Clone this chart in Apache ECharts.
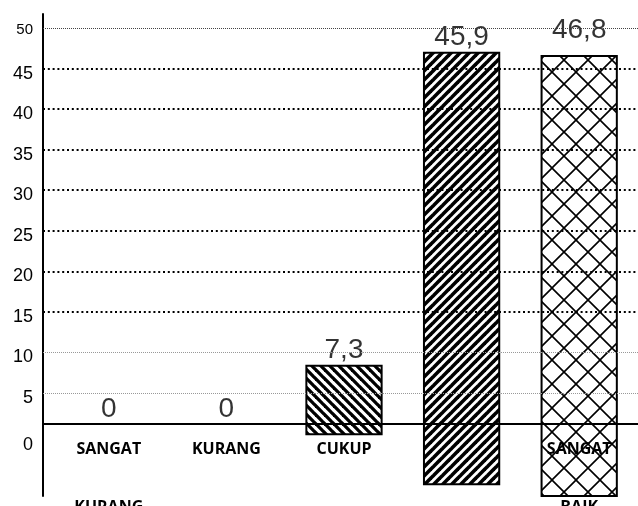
<!DOCTYPE html>
<html>
<head>
<meta charset="utf-8">
<script src="https://cdn.jsdelivr.net/npm/echarts@6/dist/echarts.min.js"></script>
<style>
  html, body { margin: 0; padding: 0; background: #fff; }
  #chart { width: 638px; height: 506px; }
</style>
</head>
<body>
<div id="chart"></div>
<script>
// Categories and percentages
const categories = ['SANGAT KURANG', 'KURANG', 'CUKUP', 'BAIK', 'SANGAT BAIK'];
const percentages = [0, 0, 7.3, 45.9, 46.8];
// Level each bar's fill starts from (the boxes hang below the baseline)
const barFloor = [0, 0, -1.1, -6.4, -7.66];
// Value-axis tick labels
const yTicks = [0, 5, 10, 15, 20, 25, 30, 35, 40, 45, 50];

// ---- fill patterns ----
function stripes(dir, period, width) {
  const c = document.createElement('canvas');
  c.width = period; c.height = period;
  const g = c.getContext('2d');
  g.fillStyle = '#fff';
  g.fillRect(0, 0, period, period);
  g.strokeStyle = '#000';
  g.lineWidth = width;
  for (let k = -2; k <= 2; k++) {
    g.beginPath();
    if (dir === 'down') {
      g.moveTo(k * period - period, -period);
      g.lineTo(k * period + 2 * period, 2 * period);
    } else {
      g.moveTo(k * period - period, 2 * period);
      g.lineTo(k * period + 2 * period, -period);
    }
    g.stroke();
  }
  return { image: c, repeat: 'repeat' };
}
function lattice(period, width) {
  const c = document.createElement('canvas');
  c.width = period; c.height = period;
  const g = c.getContext('2d');
  g.strokeStyle = '#000';
  g.lineWidth = width;
  for (let k = -1; k <= 1; k++) {
    g.beginPath();
    g.moveTo(k * period - period, -period);
    g.lineTo(k * period + 2 * period, 2 * period);
    g.moveTo(k * period - period, 2 * period);
    g.lineTo(k * period + 2 * period, -period);
    g.stroke();
  }
  return { image: c, repeat: 'repeat' };
}
const fills = [null, null, stripes('down', 9, 3.3), stripes('up', 9, 3.6), lattice(24, 1.6)];

function gridStyle(v) {
  if (v === 50) return { color: '#444', width: 1, type: [1, 1] };
  if (v <= 10) return { color: '#999', width: 1, type: [1, 1] };
  return { color: '#000', width: 2, type: [2, 2.8] };
}

const chart = echarts.init(document.getElementById('chart'));
chart.setOption({
  animation: false,
  backgroundColor: '#fff',
  grid: [
    { left: 43, right: 0, top: 28, bottom: 72.4, outerBoundsMode: 'none', containLabel: false },
    { left: 50, right: 0, top: 14, bottom: 10, outerBoundsMode: 'none', containLabel: false }
  ],
  xAxis: [
    {
      gridIndex: 0, type: 'category', data: categories, z: 4,
      offset: -9.6,
      axisLine: { onZero: false, lineStyle: { color: '#000', width: 2 } },
      axisTick: { show: false }, axisLabel: { show: false }, splitLine: { show: false }
    },
    {
      gridIndex: 1, type: 'category', data: categories, z: 1,
      offset: -72,
      axisLine: { show: false, onZero: false },
      axisTick: { show: false },
      axisLabel: {
        interval: 0, margin: -4,
        formatter: s => s.replace(' ', '\n'),
        fontFamily: 'Open Sans', fontWeight: 'bold', fontSize: 16, lineHeight: 58, color: '#000'
      }
    }
  ],
  yAxis: [
    {
      gridIndex: 0, type: 'value', min: yTicks[0], max: yTicks[yTicks.length - 1], interval: 5,
      axisLine: { show: false }, axisTick: { show: false }, splitLine: { show: false },
      axisLabel: {
        margin: 10, color: '#000',
        formatter: v => v === 0 ? '{zero|' + v + '}' : v === 50 ? '{top|' + v + '}' : '{n|' + v + '}',
        rich: {
          n: { fontFamily: 'Liberation Sans', fontSize: 18, color: '#000', padding: [10, 0, 0, 0] },
          zero: { fontFamily: 'Liberation Sans', fontSize: 18, color: '#000', padding: [22, 0, 0, 0] },
          top: { fontFamily: 'Liberation Sans', fontSize: 15, color: '#000', padding: [4, 0, 0, 0] }
        }
      }
    },
    {
      gridIndex: 1, type: 'value', min: -7.66, max: 43.62, offset: 7, z: 4,
      axisLine: { show: true, lineStyle: { color: '#000', width: 2 } },
      axisTick: { show: false }, axisLabel: { show: false }, splitLine: { show: false }
    },
    {
      gridIndex: 1, type: 'value', min: -7.69, max: 51.74, show: false
    }
  ],
  series: [
    {
      // dotted reference rules
      type: 'line', xAxisIndex: 0, yAxisIndex: 0, z: 1, silent: true,
      data: categories.map(() => null),
      markLine: {
        symbol: 'none', silent: true, animation: false,
        label: { show: false },
        data: yTicks.filter(v => v > 0).map(v => ({ yAxis: v, lineStyle: gridStyle(v) }))
      }
    },
    {
      // value labels
      type: 'scatter', xAxisIndex: 1, yAxisIndex: 2, z: 2, silent: true,
      symbolSize: 1, itemStyle: { color: 'rgba(0,0,0,0)' },
      data: percentages,
      label: {
        show: true, position: 'inside', offset: [0, -24],
        formatter: p => String(p.value).replace('.', ','),
        fontFamily: 'Liberation Sans', fontSize: 28, color: '#000'
      }
    },
    {
      // hatched bars
      type: 'custom', xAxisIndex: 1, yAxisIndex: 1, z: 3, silent: true, clip: false,
      data: categories.map((c, i) => [i, barFloor[i], barFloor[i] + percentages[i]]),
      renderItem(params, api) {
        const i = api.value(0);
        if (percentages[i] === 0) return null;
        const lo = api.coord([i, api.value(1)]);
        const hi = api.coord([i, api.value(2)]);
        const w = api.size([1, 0])[0] * 0.64;
        return {
          type: 'rect',
          shape: { x: lo[0] - w / 2, y: hi[1], width: w, height: lo[1] - hi[1] },
          style: { fill: fills[i], stroke: '#000', lineWidth: 2 }
        };
      }
    }
  ]
});
</script>
</body>
</html>
